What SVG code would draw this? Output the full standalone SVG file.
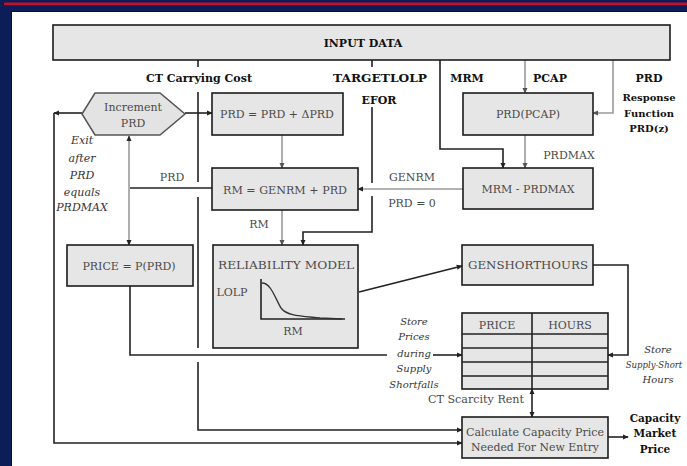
<svg xmlns="http://www.w3.org/2000/svg" width="687" height="466" viewBox="0 0 687 466">
<style>
.bx{fill:#e6e6e6;stroke:#1c1c1c;stroke-width:1.6}
.ln{stroke:#222;stroke-width:1.6;fill:none}
.lg{stroke:#9a9a9a;stroke-width:1.6;fill:none}
.t{font-family:"DejaVu Serif","Liberation Serif",serif;font-size:11px;fill:#4a4a4a;text-anchor:middle}
.b{font-weight:bold;fill:#111}
.i{font-style:italic;fill:#333}
</style>
<defs>
<marker id="ad" viewBox="0 0 8 8" refX="7" refY="4" markerWidth="6" markerHeight="6" orient="auto-start-reverse" markerUnits="userSpaceOnUse"><path d="M0,0.5 L8,4 L0,7.5 Z" fill="#222"/></marker>
<marker id="ag" viewBox="0 0 8 8" refX="7" refY="4" markerWidth="6" markerHeight="6" orient="auto-start-reverse" markerUnits="userSpaceOnUse"><path d="M0,0.5 L8,4 L0,7.5 Z" fill="#555"/></marker>
</defs>
<rect width="687" height="466" fill="#0c1d57"/>
<rect x="4" y="2.5" width="683" height="2.5" fill="#c8102e"/>
<rect x="11" y="11" width="676" height="455" fill="#111"/>
<rect x="12" y="12" width="675" height="454" fill="#ffffff"/>

<g id="connectors">
<path class="ln" d="M198,60 V67"/>
<path class="ln" d="M198,92 V182 M198,197 V348 M198,362 V430 H462" marker-end="url(#ad)"/>
<path class="ln" d="M372,60 V67"/>
<path class="ln" d="M372,107 V183 M372,196 V232 H303 V245" marker-end="url(#ad)"/>
<path class="ln" d="M440,60 V149 H503 V168" marker-end="url(#ad)"/>
<path class="lg" d="M525,60 V93" marker-end="url(#ag)"/>
<path class="lg" d="M613,60 V113 H593" marker-end="url(#ag)"/>
<path class="lg" d="M525,135 V168" marker-end="url(#ag)"/>
<path class="lg" d="M463,189 H358" marker-end="url(#ad)"/>
<path class="ln" d="M185,113 H212" marker-end="url(#ad)"/>
<path class="lg" d="M282,135 V168" marker-end="url(#ag)"/>
<path class="lg" d="M282,210 V245" marker-end="url(#ag)"/>
<path class="ln" d="M212,188 H130"/>
<path class="lg" d="M129,136 V245" marker-start="url(#ad)" marker-end="url(#ad)"/>
<path class="ln" d="M130,286 V355 H387"/>
<path class="ln" d="M433,355 H462" marker-end="url(#ad)"/>
<path class="ln" d="M359,292 L462,266" marker-end="url(#ad)"/>
<path class="ln" d="M593,265 H628 V355 H608" marker-end="url(#ad)"/>
<path class="ln" d="M532,389 V417" marker-start="url(#ad)" marker-end="url(#ad)"/>
<path class="ln" d="M82,113 H54" marker-end="url(#ad)"/>
<path class="ln" d="M54,113 V443 H462" marker-end="url(#ad)"/>
<path class="ln" d="M608,437 H628" marker-end="url(#ad)"/>
</g>

<g id="input-data">
<rect class="bx" x="53" y="25" width="617" height="35"/>
<text class="t b" x="363" y="47">INPUT DATA</text>
</g>

<g id="input-labels">
<text class="t b" x="199" y="82" textLength="106" lengthAdjust="spacingAndGlyphs">CT Carrying Cost</text>
<text class="t b" x="380" y="82" textLength="94" lengthAdjust="spacingAndGlyphs">TARGETLOLP</text>
<text class="t b" x="379" y="104">EFOR</text>
<text class="t b" x="467" y="82">MRM</text>
<text class="t b" x="550" y="82">PCAP</text>
<text class="t b" x="649" y="82">PRD</text>
<text class="t b" x="649" y="101" style="font-size:10px">Response</text>
<text class="t b" x="649" y="117" style="font-size:10px">Function</text>
<text class="t b" x="649" y="132" style="font-size:10px">PRD(z)</text>
</g>

<g id="increment-prd">
<polygon points="82,114 95,93 160,93 185,114 160,135 95,135" fill="#e3e3e3" stroke="#555" stroke-width="1.5"/>
<text class="t" x="133" y="111">Increment</text>
<text class="t" x="133" y="127">PRD</text>
</g>

<g id="exit-label">
<text class="t i" x="82" y="144">Exit</text>
<text class="t i" x="82" y="162">after</text>
<text class="t i" x="82" y="179">PRD</text>
<text class="t i" x="82" y="196">equals</text>
<text class="t i" x="82" y="211">PRDMAX</text>
</g>

<g id="prd-update">
<rect class="bx" x="212" y="93" width="131" height="42"/>
<text class="t" x="277" y="118">PRD = PRD + ΔPRD</text>
</g>

<g id="rm-box">
<rect class="bx" x="212" y="168" width="146" height="42"/>
<text class="t" x="285" y="194" textLength="124" lengthAdjust="spacingAndGlyphs">RM = GENRM + PRD</text>
</g>

<g id="prd-label"><text class="t" x="172" y="181">PRD</text></g>
<g id="genrm-label">
<text class="t" x="412" y="181">GENRM</text>
<text class="t" x="412" y="207">PRD = 0</text>
</g>
<g id="rm-label"><text class="t" x="259" y="228">RM</text></g>

<g id="prd-pcap">
<rect class="bx" x="463" y="93" width="130" height="42"/>
<text class="t" x="528" y="118">PRD(PCAP)</text>
</g>
<g id="prdmax-label"><text class="t" x="569" y="159">PRDMAX</text></g>

<g id="mrm-prdmax">
<rect class="bx" x="463" y="168" width="130" height="41"/>
<text class="t" x="528" y="193">MRM - PRDMAX</text>
</g>

<g id="price-fn">
<rect class="bx" x="67" y="245" width="126" height="41"/>
<text class="t" x="129" y="270">PRICE = P(PRD)</text>
</g>

<g id="reliability-model">
<rect class="bx" x="213" y="245" width="145" height="103"/>
<text class="t" x="286" y="269" textLength="136" lengthAdjust="spacingAndGlyphs">RELIABILITY MODEL</text>
<text class="t" x="232" y="296">LOLP</text>
<path class="ln" d="M261,279 V319 H345"/>
<path d="M262,283 C271,283 275,298 281,308 C287,316 300,316 320,318 L342,319" fill="none" stroke="#333" stroke-width="1.3"/>
<text class="t" x="293" y="335">RM</text>
</g>

<g id="genshorthours">
<rect class="bx" x="462" y="245" width="131" height="40"/>
<text class="t" x="528" y="269" textLength="120" lengthAdjust="spacingAndGlyphs">GENSHORTHOURS</text>
</g>

<g id="price-hours-table">
<rect class="bx" x="462" y="313" width="146" height="76"/>
<path class="ln" d="M532,313 V389 M462,334 H608 M462,348 H608 M462,362 H608 M462,376 H608"/>
<text class="t" x="497" y="329">PRICE</text>
<text class="t" x="570" y="329">HOURS</text>
</g>

<g id="store-prices-label">
<text class="t i" x="414" y="325" style="font-size:10px">Store</text>
<text class="t i" x="414" y="340" style="font-size:10px">Prices</text>
<text class="t i" x="414" y="357" style="font-size:10px">during</text>
<text class="t i" x="414" y="372" style="font-size:10px">Supply</text>
<text class="t i" x="414" y="388" style="font-size:10px">Shortfalls</text>
</g>

<g id="store-hours-label">
<text class="t i" x="658" y="353" style="font-size:10px">Store</text>
<text class="t i" x="654" y="368" style="font-size:8.5px">Supply-Short</text>
<text class="t i" x="658" y="383" style="font-size:10px">Hours</text>
</g>

<g id="scarcity-label"><text class="t" x="476" y="403" textLength="96" lengthAdjust="spacingAndGlyphs">CT Scarcity Rent</text></g>

<g id="calc-capacity-price">
<rect class="bx" x="462" y="417" width="146" height="41"/>
<text class="t" x="535" y="436" textLength="138" lengthAdjust="spacingAndGlyphs">Calculate Capacity Price</text>
<text class="t" x="535" y="451" textLength="128" lengthAdjust="spacingAndGlyphs">Needed For New Entry</text>
</g>

<g id="capacity-market-price">
<text class="t b" x="655" y="422" style="font-size:10.5px">Capacity</text>
<text class="t b" x="655" y="437" style="font-size:10.5px">Market</text>
<text class="t b" x="655" y="453" style="font-size:10.5px">Price</text>
</g>
</svg>
